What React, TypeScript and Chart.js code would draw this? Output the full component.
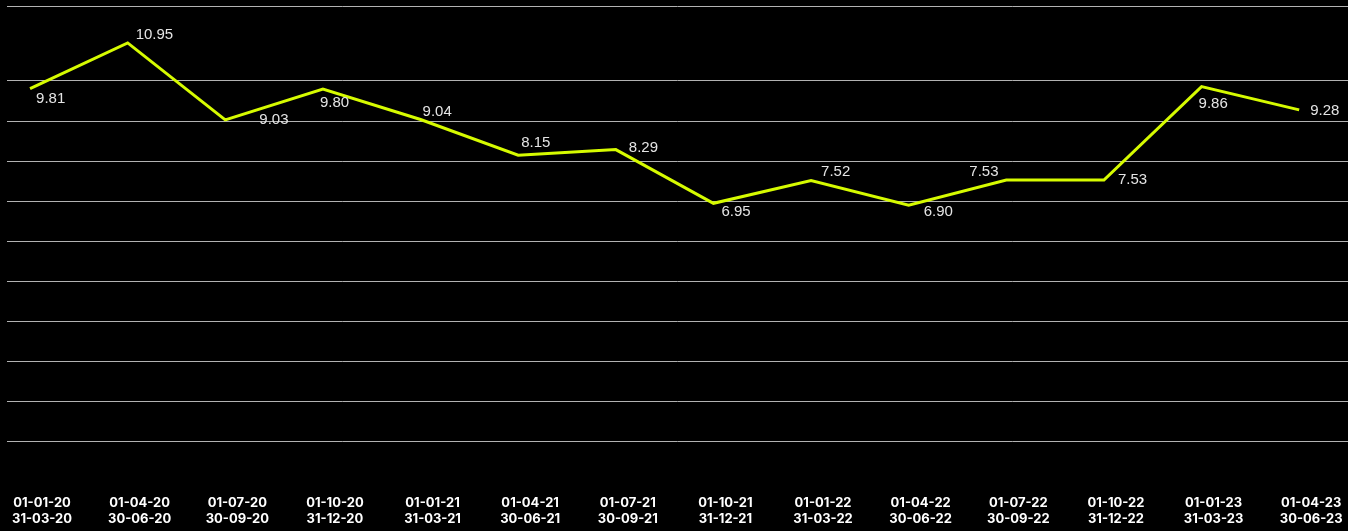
import React, { useEffect, useRef } from "react";
import { Chart, registerables } from "chart.js";

Chart.register(...registerables);

// Quarter start / end dates shown as two-line x-axis labels
const PERIOD_STARTS = [
  "01-01-20", "01-04-20", "01-07-20", "01-10-20",
  "01-01-21", "01-04-21", "01-07-21", "01-10-21",
  "01-01-22", "01-04-22", "01-07-22", "01-10-22",
  "01-01-23", "01-04-23",
];
const PERIOD_ENDS = [
  "31-03-20", "30-06-20", "30-09-20", "31-12-20",
  "31-03-21", "30-06-21", "30-09-21", "31-12-21",
  "31-03-22", "30-06-22", "30-09-22", "31-12-22",
  "31-03-23", "30-06-23",
];

// Quarterly values
const VALUES = [9.81, 10.95, 9.03, 9.8, 9.04, 8.15, 8.29, 6.95, 7.52, 6.9, 7.53, 7.53, 9.86, 9.28];

// Horizontal guide lines
const Y_GRID_VALUES = [1, 2, 3, 4, 5, 6, 7, 8, 9, 10];
const Y_MIN = 0;
const Y_MAX = 11.87;

// Where each value label sits relative to its point: [dx to text start, dy to text middle]
const VALUE_LABEL_OFFSETS: [number, number][] = [
  [6, 10], [8, -8], [34, 0], [-3, 14], [2, -8], [3, -12], [13, -2],
  [8, 9], [10, -9], [15, 7], [-37, -8], [14, 0], [-3, 17], [11, 1],
];

const LINE_COLOR = "#d6fb00";
const GRID_COLOR = "#b2b2b2";
const VALUE_COLOR = "#e4e4e4";

const valueLabels = {
  id: "valueLabels",
  afterDatasetsDraw(chart: any) {
    const meta = chart.getDatasetMeta(0);
    const ctx = chart.ctx;
    ctx.save();
    ctx.font = '15px "Liberation Sans", Arial, sans-serif';
    ctx.fillStyle = VALUE_COLOR;
    ctx.textAlign = "left";
    ctx.textBaseline = "middle";
    meta.data.forEach((pt: any, i: number) => {
      const [dx, dy] = VALUE_LABEL_OFFSETS[i] || [6, -10];
      ctx.fillText(VALUES[i].toFixed(2), pt.x + dx, pt.y + dy);
    });
    ctx.restore();
  },
};

export default function App() {
  const canvasRef = useRef<HTMLCanvasElement | null>(null);

  useEffect(() => {
    const canvas = canvasRef.current;
    if (!canvas) return;
    const chart = new Chart(canvas, {
      type: "line",
      data: {
        datasets: [
          {
            data: VALUES.map((v, i) => ({ x: i, y: v })),
            borderColor: LINE_COLOR,
            borderWidth: 3,
            pointRadius: 0,
            pointHoverRadius: 0,
            tension: 0,
            fill: false,
          },
        ],
      },
      options: {
        responsive: false,
        animation: false,
        devicePixelRatio: 1,
        layout: { padding: { left: 7, top: 6, right: 0, bottom: 0 } },
        plugins: {
          legend: { display: false },
          tooltip: { enabled: false },
        },
        scales: {
          x: {
            type: "linear",
            min: -0.236,
            max: 13.5,
            grid: { display: false, drawTicks: false, tickLength: 0 },
            border: { display: false },
            afterBuildTicks: (scale: any) => {
              scale.ticks = PERIOD_STARTS.map((_, i) => ({ value: i }));
            },
            afterFit: (scale: any) => {
              scale.paddingLeft = 0;
              scale.paddingRight = 0;
            },
            ticks: {
              autoSkip: false,
              maxRotation: 0,
              minRotation: 0,
              padding: 13,
              labelOffset: 12,
              color: "#ffffff",
              font: { family: "Inter", weight: "bold", size: 13, lineHeight: 16 / 13 },
              callback: (value: any) => {
                const i = Math.round(Number(value));
                return [PERIOD_STARTS[i], PERIOD_ENDS[i]];
              },
            },
          },
          y: {
            min: Y_MIN,
            max: Y_MAX,
            grid: { color: GRID_COLOR, lineWidth: 1, drawTicks: false, tickLength: 0 },
            border: { display: false },
            afterBuildTicks: (scale: any) => {
              scale.ticks = [...Y_GRID_VALUES, Y_MAX].map((v) => ({ value: v }));
            },
            ticks: { display: false },
          },
        },
      },
      plugins: [valueLabels],
    });
    return () => chart.destroy();
  }, []);

  return (
    <div
      style={{
        position: "fixed",
        left: 0,
        top: 0,
        width: 1348,
        height: 531,
        overflow: "hidden",
        background: "#000",
      }}
    >
      <canvas ref={canvasRef} width={1348} height={540} style={{ display: "block" }} />
    </div>
  );
}
